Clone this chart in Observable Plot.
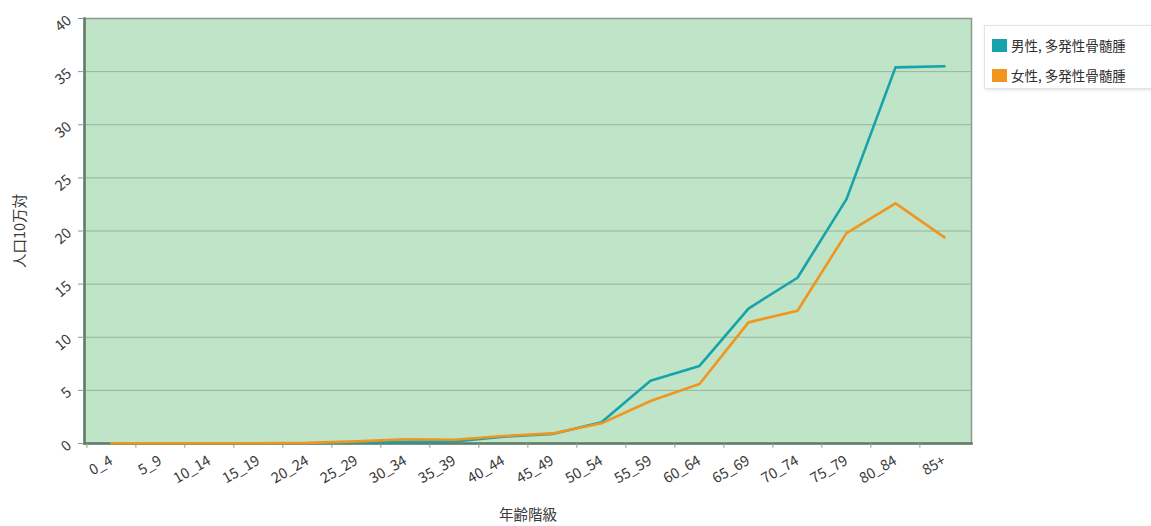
<!DOCTYPE html>
<html>
<head>
<meta charset="utf-8">
<script src="https://cdn.jsdelivr.net/npm/d3@7"></script>
<script src="https://cdn.jsdelivr.net/npm/@observablehq/plot@0.6"></script>
<style>
  html, body { margin: 0; padding: 0; background: #ffffff; overflow: hidden; }
  #wrap { position: relative; width: 1151px; height: 526px; font-family: "Noto Sans CJK JP", "Noto Sans", sans-serif; }
  #legend {
    position: absolute; left: 984px; top: 25px; width: 170px; height: 64px;
    background: #ffffff; border: 1px solid #e4e4e4; box-shadow: 1px 1px 3px rgba(0,0,0,0.12);
    box-sizing: border-box; font-size: 13.5px; color: #2e2e2e;
  }
  .item { position: absolute; left: 7px; display: flex; align-items: center; white-space: nowrap; }
  .sw { width: 15px; height: 13px; margin-right: 4px; }
</style>
</head>
<body>
<div id="wrap"><div id="chart"></div><div id="legend"></div></div>
<script>
const ages = ["0_4","5_9","10_14","15_19","20_24","25_29","30_34","35_39","40_44","45_49","50_54","55_59","60_64","65_69","70_74","75_79","80_84","85+"];
const maleValues   = [0.02,0.02,0.02,0.02,0.03,0.1,0.15,0.2,0.65,0.9,2.0,5.9,7.3,12.7,15.6,23.0,35.4,35.5];
const femaleValues = [0.03,0.03,0.03,0.03,0.06,0.2,0.4,0.35,0.7,0.95,1.9,4.0,5.6,11.4,12.5,19.8,22.6,19.4];
const seriesNames = ["男性, 多発性骨髄腫", "女性, 多発性骨髄腫"];
const seriesColors = ["#17a3aa", "#f0961f"];
const yTicks = [0,5,10,15,20,25,30,35,40];
const yLabel = "人口10万対";
const xLabel = "年齢階級";

const rows = [
  ...ages.map((a, i) => ({age: a, value: maleValues[i], series: seriesNames[0]})),
  ...ages.map((a, i) => ({age: a, value: femaleValues[i], series: seriesNames[1]}))
];

const W = 1151, H = 526, mL = 84, mR = 180, mT = 18, mB = 83;
const step = (W - mL - mR) / ages.length;

const chart = Plot.plot({
  width: W, height: H,
  marginLeft: mL, marginRight: mR, marginTop: mT, marginBottom: mB,
  style: {fontFamily: '"Noto Sans CJK JP", "Noto Sans", sans-serif', fontSize: "14px", color: "#333", background: "transparent"},
  x: {type: "point", domain: ages, padding: 0.5},
  y: {domain: [0, 40]},
  color: {domain: seriesNames, range: seriesColors},
  marks: [
    Plot.frame({fill: "#bfe4c7", stroke: "#8c9a91", strokeWidth: 1.5}),
    Plot.ruleY(yTicks.slice(1, -1), {y: d => d, stroke: "#94b59e", strokeWidth: 1}),
    Plot.frame({anchor: "left", stroke: "#5e7a68", strokeWidth: 2.5}),
    Plot.frame({anchor: "bottom", stroke: "#5e7a68", strokeWidth: 2.5}),
    Plot.ruleX(ages, {x: d => d, y1: 0, y2: -0.45, dx: -step / 2, stroke: "#8c9a91"}),
    Plot.axisY(yTicks, {tickSize: 6, tickPadding: 9, tickRotate: -40, stroke: "#8c9a91", fill: "#3a3a3a", fontSize: 14.5,
      label: yLabel, labelAnchor: "center", labelOffset: 70, labelArrow: "none"}),
    Plot.axisX({tickSize: 0, tickPadding: 16, tickRotate: -30, fill: "#3a3a3a", fontSize: 14.5,
      label: xLabel, labelAnchor: "center", labelOffset: 76, labelArrow: "none"}),
    Plot.line(rows, {x: "age", y: "value", stroke: "series", strokeWidth: 2.6, strokeLinejoin: "round"})
  ]
});
document.getElementById("chart").appendChild(chart);

const legend = document.getElementById("legend");
seriesNames.forEach((name, i) => {
  const it = document.createElement("div");
  it.className = "item";
  it.style.top = (9 + i * 30) + "px";
  const sw = document.createElement("div");
  sw.className = "sw";
  sw.style.background = seriesColors[i];
  const tx = document.createElement("span");
  tx.textContent = name;
  it.appendChild(sw); it.appendChild(tx);
  legend.appendChild(it);
});
</script>
</body>
</html>
